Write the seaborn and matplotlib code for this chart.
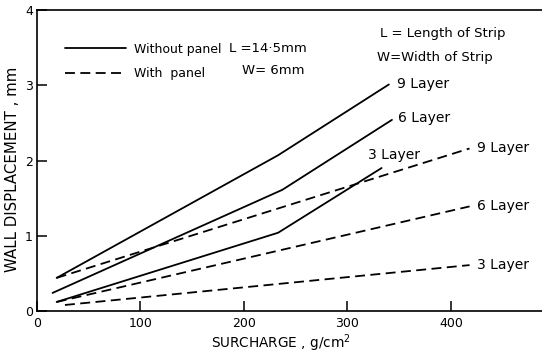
import matplotlib
matplotlib.use("Agg")
import matplotlib.pyplot as plt
from matplotlib.lines import Line2D
import pandas as pd
import seaborn as sns

# Wall displacement (mm) against surcharge (g/cm^2) for three reinforcement layers
layers = ["9 Layer", "6 Layer", "3 Layer"]

# Without panel (solid lines)
without_x = {
    "9 Layer": [19, 233, 340],
    "6 Layer": [15, 237, 343],
    "3 Layer": [19, 233, 333],
}
without_y = {
    "9 Layer": [0.44, 2.07, 3.01],
    "6 Layer": [0.24, 1.61, 2.54],
    "3 Layer": [0.12, 1.04, 1.90],
}

# With panel (dashed lines)
with_x = {
    "9 Layer": [19, 418],
    "6 Layer": [19, 418],
    "3 Layer": [27, 418],
}
with_y = {
    "9 Layer": [0.44, 2.16],
    "6 Layer": [0.12, 1.39],
    "3 Layer": [0.08, 0.61],
}

x_ticks = [0, 100, 200, 300, 400]
y_ticks = [0, 1, 2, 3, 4]

rows = []
for cond, xs, ys in [("Without panel", without_x, without_y),
                     ("With panel", with_x, with_y)]:
    for lay in layers:
        for xv, yv in zip(xs[lay], ys[lay]):
            rows.append({"surcharge": xv, "displacement": yv,
                         "layer": lay, "condition": cond,
                         "series": f"{cond} {lay}"})
df = pd.DataFrame(rows)

sns.set_style("ticks", {"text.color": "black", "axes.labelcolor": "black",
                        "xtick.color": "black", "ytick.color": "black",
                        "axes.edgecolor": "black"})
plt.rcParams["font.family"] = ["DejaVu Sans"]

fig = plt.figure(figsize=(5.42, 3.57), dpi=100)
W, H = 542, 357
ax = fig.add_axes([37 / W, 46 / H, 505 / W, 301 / H])

dash_map = {"Without panel": "", "With panel": (5.5, 3)}
sns.lineplot(data=df, x="surcharge", y="displacement", units="series",
             estimator=None, style="condition", dashes=dash_map,
             color="black", linewidth=1.3, legend=False, sort=False, ax=ax)

ax.set_xlim(0, 488)
ax.set_ylim(0, 4)
ax.set_xticks(x_ticks)
ax.set_yticks(y_ticks)
tick_font = {"family": ["Liberation Sans Narrow", "DejaVu Sans"], "size": 9}
ax.set_xticklabels([str(v) for v in x_ticks], fontdict=tick_font)
ax.set_yticklabels([str(v) for v in y_ticks], fontdict=tick_font)
ax.tick_params(direction="in", length=7, width=1.1, colors="black")
ax.tick_params(axis="y", pad=3)
ax.tick_params(axis="x", pad=4)

for side in ["left", "bottom", "top"]:
    ax.spines[side].set_linewidth(1.2)
    ax.spines[side].set_color("black")
ax.spines["right"].set_visible(False)

ax.set_xlabel("SURCHARGE , g/cm$^2$", fontsize=9.8, color="black")
ax.set_ylabel("WALL DISPLACEMENT , mm", fontsize=10.8, color="black")
ax.xaxis.set_label_coords((281 - 37) / 505, -0.072)
ax.yaxis.set_label_coords(-0.033, 0.47)

# Layer labels at the ends of the curves
solid_offsets = {"9 Layer": (6, 0), "6 Layer": (4, 1.5), "3 Layer": (-10, 9.5)}
for lay in layers:
    ax.annotate(lay, (without_x[lay][-1], without_y[lay][-1]),
                xytext=solid_offsets[lay], textcoords="offset points",
                ha="left", va="center", fontsize=10, color="black")
    ax.annotate(lay, (with_x[lay][-1], with_y[lay][-1]),
                xytext=(5, 0), textcoords="offset points",
                ha="left", va="center", fontsize=10, color="black")

# Legend
handles = [Line2D([], [], color="black", lw=1.3),
           Line2D([], [], color="black", lw=1.3, linestyle=(0, (5.5, 3)))]
leg = ax.legend(handles, ["Without panel", "With  panel"], loc="upper left",
                bbox_to_anchor=(28 / 505, 0.892), frameon=False, fontsize=9,
                handlelength=4.9, handletextpad=0.6, borderpad=0,
                borderaxespad=0, labelspacing=0.95)
for t in leg.get_texts():
    t.set_color("black")
fig.text(229 / W, 1 - 48 / H, "L =14·5mm", fontsize=9.5, va="center")
fig.text(242 / W, 1 - 71 / H, "W= 6mm", fontsize=9.5, va="center")
fig.text(380 / W, 1 - 33 / H, "L = Length of Strip", fontsize=9.5, va="center")
fig.text(377 / W, 1 - 57 / H, "W=Width of Strip", fontsize=9.5, va="center")

fig.savefig("out.png", dpi=100, facecolor="white")
